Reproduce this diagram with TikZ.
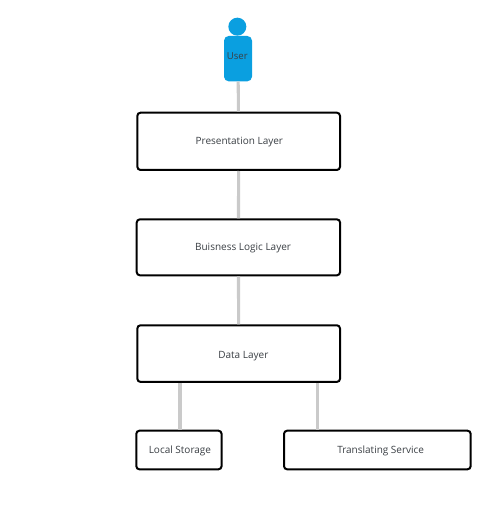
\documentclass[tikz,border=0pt]{standalone}
\usepackage{fontspec}
\setmainfont{Open Sans}
\definecolor{userblue}{HTML}{0A9FE0}
\definecolor{linkgray}{HTML}{CACACA}
\definecolor{textgray}{HTML}{3A3F44}
% the labels sit a little off the middle of their boxes
\newcommand{\boxtext}[3][2.7pt]{\raisebox{-#1}[0pt][0pt]{\hspace*{#2}#3}}
\tikzset{
    layerbox/.style={draw=black, line width=1.5pt, rounded corners=2.4pt, fill=white, inner sep=0pt, text=textgray, font=\fontsize{7.5}{9}\selectfont},
    userbody/.style={fill=userblue, rounded corners=3.5pt, inner sep=0pt},
    link/.style={draw=linkgray, line width=2.3pt}
}
\begin{document}
\begin{tikzpicture}[x=1pt, y=-1pt]
    \useasboundingbox (0,0) rectangle (371.25,384.75);
    \coordinate (localjoin) at (135,300);
    \coordinate (transjoin) at (238,300);

    \node[circle, fill=userblue, inner sep=0pt, minimum size=13.5pt] (head) at (178,20) {};
    \node[userbody, minimum width=21pt, minimum height=34pt] (user) at (178.5,44) {};
    \node[text=textgray, font=\fontsize{7.2}{8}\selectfont] (userlabel) at (178,42) {User};

    \node[layerbox, minimum width=152pt, minimum height=43pt] (presentation) at (179,106) {\boxtext{1pt}{Presentation Layer}};
    \node[layerbox, minimum width=152.5pt, minimum height=42pt] (business) at (178.8,185.5) {\boxtext{7pt}{Buisness Logic Layer}};
    \node[layerbox, minimum width=152pt, minimum height=42.5pt] (data) at (179,265.2) {\boxtext[3.8pt]{7pt}{Data Layer}};
    \node[layerbox, minimum width=64pt, minimum height=29pt] (local) at (134.2,337.5) {\boxtext{1.5pt}{Local Storage}};
    \node[layerbox, minimum width=140pt, minimum height=29pt] (translating) at (283,337.5) {\boxtext{5pt}{Translating Service}};

    \draw[link] (user) -- (presentation);
    \draw[link] (presentation) -- (business);
    \draw[link] (business) -- (data);
    \draw[link] (localjoin |- data.south) -- (localjoin |- local.north);
    \draw[link] (transjoin |- data.south) -- (transjoin |- translating.north);
\end{tikzpicture}
\end{document}
